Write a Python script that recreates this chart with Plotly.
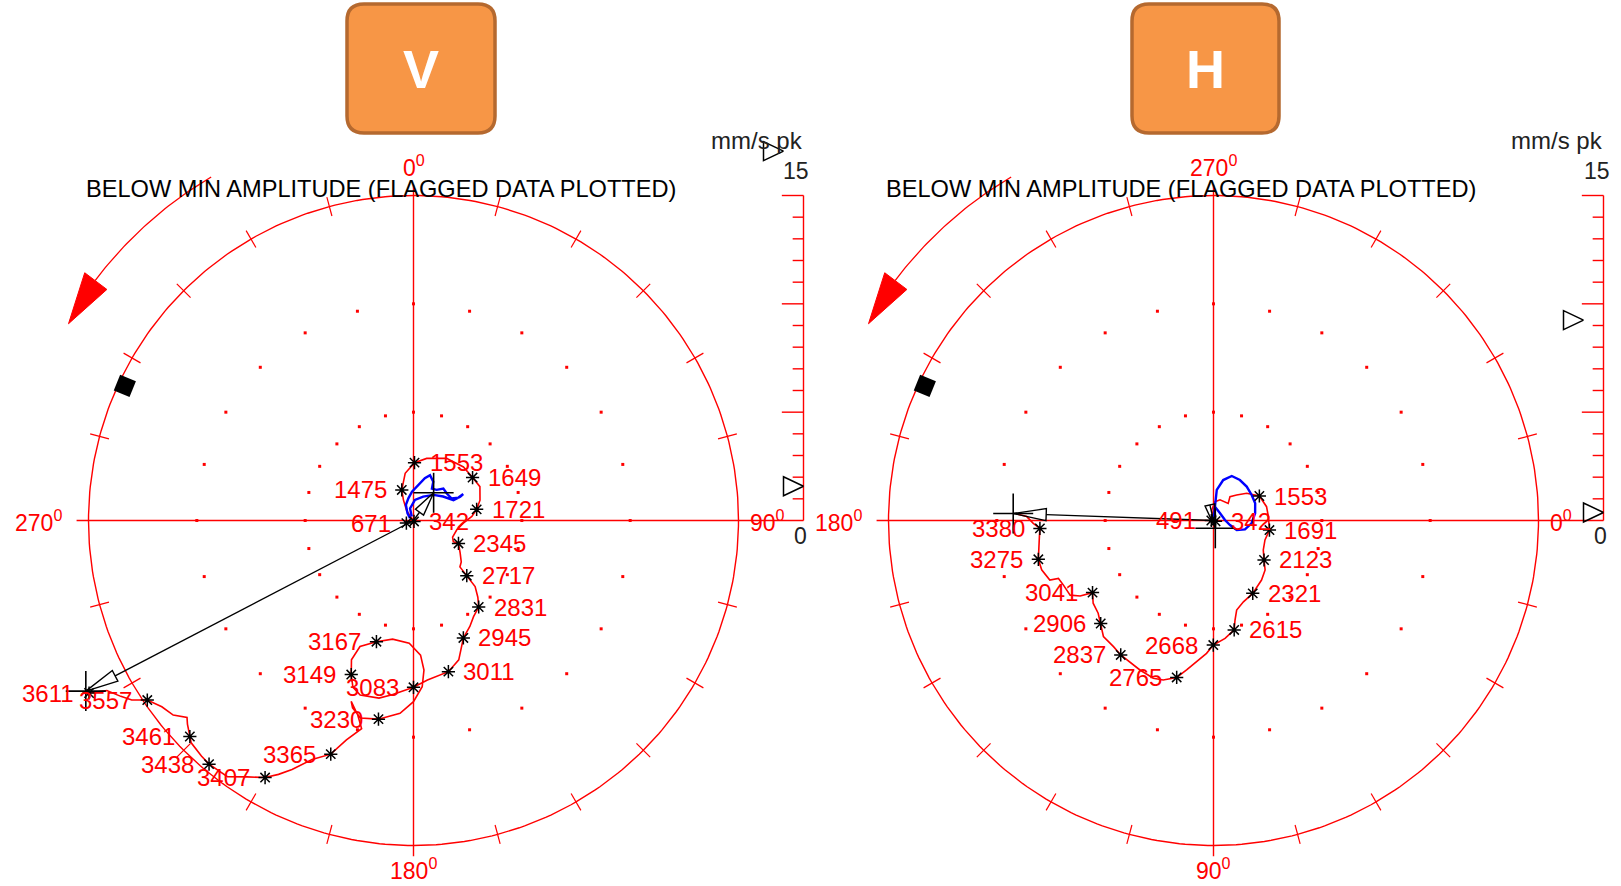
import numpy as np
import plotly.graph_objects as go

# ---------------------------------------------------------------
# Run-up polar plots (1X vector, mm/s pk) for the V and H probes
# ---------------------------------------------------------------

# ---- V probe : red 1X trace (amplitude mm/s pk, phase deg) ----
v_path_amp = [0.0,
              0.13, 0.58, 1.06, 1.51, 2.21,
              2.67, 2.93, 3.25, 3.38, 3.37,
              3.44, 3.21, 2.96, 2.70, 2.30,
              2.04, 1.96, 2.08, 2.33, 2.63,
              2.92, 3.03, 3.54, 4.17, 4.62,
              5.00, 5.23, 5.54, 5.89, 6.35,
              6.76, 7.16, 7.39, 7.70, 8.10,
              8.35, 8.42, 8.18, 7.67, 7.04,
              6.32, 5.85, 5.56, 5.67, 6.22,
              6.92, 7.68, 8.36, 8.92, 9.31,
              9.44, 9.10, 8.83, 9.34, 9.90,
              10.59, 11.44, 11.98, 12.79, 13.27,
              13.70, 14.11, 14.61, 14.68, 14.63,
              14.51, 14.35, 14.04, 13.85, 14.27,
              14.45, 14.82, 15.42, 15.76, 16.18, 16.96]
v_path_phase = [0,
                321, 326, 334, 339, 350,
                1, 12, 28, 43, 54,
                63, 73, 80, 86, 93,
                102.5, 113, 118, 117, 125,
                131, 135, 136, 137, 140,
                143, 148, 152, 157, 160,
                162, 167, 175, 180, 187,
                191, 197, 200, 202, 204,
                203, 197, 190, 182, 177,
                176, 177, 180, 184, 190,
                195, 198, 199, 196, 194,
                197, 199.5, 203, 206, 208,
                210, 213, 216, 220, 222,
                225, 226, 228, 229, 231,
                233.5, 236, 237.5, 239, 241, 242]

# ---- V probe : blue reference trace ----
v_blue_amp = [0.19, 0.43, 0.80, 1.05, 1.33, 1.65, 2.02, 2.23, 2.01, 1.70, 1.77, 2.02,
              1.98, 2.03, 2.33, 2.60, 2.42, 2.07, 1.76, 1.50, 1.19, 0.95, 0.58, 0.20]
v_blue_phase = [302, 320, 334, 347, 357, 8, 15, 20, 27, 30, 37, 43,
                51, 60, 63, 62, 63, 63, 51, 38, 22, 4, 344, 336]

# ---- V probe : labelled speeds (rpm) ----
v_speed = [342, 671, 1475, 1553, 1649, 1721, 2345, 2717, 2831, 2945, 3011,
           3083, 3149, 3167, 3230, 3365, 3407, 3438, 3461, 3557, 3611]
v_speed_amp = [0.05, 0.35, 1.51, 2.67, 3.37, 2.96, 2.33, 3.54, 5.00, 5.89, 7.16,
               7.70, 7.67, 5.85, 9.31, 11.44, 13.70, 14.68, 14.35, 14.82, 16.96]
v_speed_phase = [150, 250, 339, 1, 54, 80, 117, 136, 143, 157, 167,
                 180, 202, 197, 190, 199.5, 210, 220, 226, 236, 242]
v_label_side = ["R", "L", "L", "R", "R", "R", "R", "R", "R", "R", "R",
                "L", "L", "L", "L", "L", "L", "L", "L", "L", "L"]

# ---- V probe : cursors (main arrow, secondary) ----
v_cursor_amp = [17.05, 1.58]
v_cursor_phase = [242.5, 36]

# ---- H probe : red 1X trace ----
h_path_amp = [0.0, 0.49, 0.87, 1.00, 1.04,
              1.34, 1.59, 1.98, 2.40, 2.53,
              2.54, 2.62, 2.54, 2.67, 2.96,
              3.30, 3.53, 3.82, 4.00, 4.27,
              4.70, 5.14, 5.47, 5.75, 6.14,
              6.57, 7.01, 7.44, 7.72, 7.79,
              7.69, 7.54, 7.43, 7.38, 7.05,
              6.83, 6.74, 6.50, 7.07, 7.46,
              7.54, 7.64, 8.04, 8.25, 8.28,
              8.13, 8.07, 8.02, 8.32, 8.62,
              9.08]
h_path_phase = [0, 260.5, 274.6, 287.5, 310.7,
                304.6, 312.2, 320.7, 331.9, 345.4,
                355.9, 9.7, 20.7, 30.6, 38.0,
                43.8, 51.1, 61.7, 69.8, 75.5,
                77.8, 79.3, 84.4, 90.1, 93.0,
                96.8, 100.2, 103.2, 107.5, 110.9,
                116.2, 124.6, 128.4, 133.5, 137.6,
                141.2, 145.5, 149.2, 150.5, 152.5,
                156.7, 159.5, 160.0, 164.0, 167.5,
                171.4, 174.7, 177.4, 179.1, 181.2,
                181.9]

# ---- H probe : blue reference trace ----
h_blue_amp = [0.02, 0.79, 1.42, 1.92, 2.22, 2.23, 2.19, 2.12, 2.08,
              1.95, 1.76, 1.51, 1.16, 0.79, 0.53, 0.45, 0.64]
h_blue_phase = [270, 275.1, 276.1, 283.5, 292.3, 303.1, 314.4, 326.2, 337.6,
                350.2, 4.2, 15.8, 22.4, 15.4, 357.8, 312.3, 276.2]

# ---- H probe : labelled speeds (rpm) ----
h_speed = [342, 491, 1553, 1691, 2123, 2321, 2615, 2668, 2765, 2837, 2906, 3041, 3275, 3380]
h_speed_amp = [0.10, 0.10, 2.40, 2.62, 2.96, 3.82, 5.14, 5.75, 7.44, 7.54, 7.05, 6.50, 8.28, 8.02]
h_speed_phase = [20, 180, 331.9, 9.7, 38.0, 61.7, 79.3, 90.1, 103.2, 124.6, 137.6, 149.2, 167.5, 177.4]
h_label_side = ["R", "L", "R", "R", "R", "R", "R", "L", "L", "L", "L", "L", "L", "L"]

# ---- H probe : cursors ----
h_cursor_amp = [9.25, 0.37]
h_cursor_phase = [182, 77]

FULL_SCALE = 15          # mm/s pk
SCALE_TICKS = list(range(1, 16))
TITLE = "BELOW MIN AMPLITUDE (FLAGGED DATA PLOTTED)"
UNITS = "mm/s pk"

# ---------------------------------------------------------------
# page geometry
# ---------------------------------------------------------------
W, H = 1621, 886
SPLIT = 810
R_PX = 325.0
K = R_PX / FULL_SCALE          # pixels per mm/s
CY = 520.5
BAR = 18.0                     # x position of the amplitude scale bar (mm/s units)

RED = "#FF0000"
BLUE = "#0000FF"
BLACK = "#000000"
FONT = "Arial, Liberation Sans, sans-serif"

fig = go.Figure()


def to_xy(amp, phase, zero):
    """Phase increases clockwise; `zero` is the screen angle (deg, ccw from +x) of 0 deg."""
    a = np.radians(zero - np.asarray(phase, float))
    r = np.asarray(amp, float)
    return r * np.cos(a), r * np.sin(a)


def scr(r, ang):
    t = np.radians(ang)
    return r * np.cos(t), r * np.sin(t)


def line(xs, ys, xa, ya, color, width, **kw):
    fig.add_trace(go.Scatter(x=xs, y=ys, mode="lines", xaxis=xa, yaxis=ya,
                             line=dict(color=color, width=width), hoverinfo="skip",
                             showlegend=False, cliponaxis=False, **kw))


def head(xt, yt, xf, yf, length_px, half_px):
    dx, dy = xt - xf, yt - yf
    L = np.hypot(dx, dy)
    ux, uy = dx / L, dy / L
    bx, by = xt - ux * length_px / K, yt - uy * length_px / K
    nx, ny = -uy * half_px / K, ux * half_px / K
    return [xt, bx + nx, bx - nx, xt], [yt, by + ny, by - ny, yt], bx, by


def panel(xa, ya, zero, cx_px, path, blue, speeds, cursors, box_text, box_px):

    def note(u, v, text, xanchor, size, color, yanchor="middle"):
        # annotation placed at (u, v) mm/s in this panel, via paper coordinates
        fig.add_annotation(x=(cx_px + u * K) / W, y=1 - (CY - v * K) / H,
                           xref="paper", yref="paper", text=text, showarrow=False,
                           xanchor=xanchor, yanchor=yanchor,
                           font=dict(family=FONT, size=size, color=color))

    # outer circle
    t = np.linspace(0, 360, 361)
    cxs, cys = scr(FULL_SCALE, t)
    line(cxs, cys, xa, ya, RED, 1.4)

    # radial ticks on the outer circle every 15 deg
    tx, ty = [], []
    for a in range(0, 360, 15):
        if a % 90 == 0:
            continue
        x0, y0 = scr(FULL_SCALE - 0.45, a)
        x1, y1 = scr(FULL_SCALE + 0.45, a)
        tx += [x0, x1, None]
        ty += [y0, y1, None]
    line(tx, ty, xa, ya, RED, 1.2)

    # dotted grid rings at 5 and 10 mm/s
    dx_, dy_ = [], []
    for rr in (5, 10):
        for a in range(0, 360, 15):
            x, y = scr(rr, a)
            dx_.append(x)
            dy_.append(y)
    fig.add_trace(go.Scatter(x=dx_, y=dy_, mode="markers", xaxis=xa, yaxis=ya,
                             marker=dict(symbol="square", size=3, color=RED, line=dict(width=0)),
                             hoverinfo="skip", showlegend=False))

    # cross-hair axes
    line([-15.55, BAR], [0, 0], xa, ya, RED, 1.4)
    line([0, 0], [15.5, -15.5], xa, ya, RED, 1.4)

    # amplitude scale bar
    sx, sy = [BAR, BAR, None], [0, FULL_SCALE, None]
    for v in SCALE_TICKS:
        ln = 1.0 if v % 5 == 0 else 0.5
        sx += [BAR - ln, BAR, None]
        sy += [v, v, None]
    line(sx, sy, xa, ya, RED, 1.4)

    # direction of rotation arrow
    arc_t = np.linspace(120.5, 143, 40)
    ax_, ay_ = scr(18.4, arc_t)
    line(ax_, ay_, xa, ya, RED, 1.3)
    b1 = scr(17.72, 143)
    b2 = scr(19.0, 143)
    tip = scr(18.33, 150.3)
    fig.add_trace(go.Scatter(x=[b1[0], b2[0], tip[0], b1[0]], y=[b1[1], b2[1], tip[1], b1[1]],
                             mode="lines", fill="toself", fillcolor=RED, xaxis=xa, yaxis=ya,
                             line=dict(color=RED, width=1), hoverinfo="skip", showlegend=False,
                             cliponaxis=False))

    # transducer location marker
    qx, qy = scr(14.7, 155)
    fig.add_trace(go.Scatter(x=[qx], y=[qy], mode="markers", xaxis=xa, yaxis=ya,
                             marker=dict(symbol="square", size=17, color=BLACK, angle=22,
                                         line=dict(width=0)),
                             hoverinfo="skip", showlegend=False))

    # 1X traces
    px_, py_ = to_xy(path[0], path[1], zero)
    line(px_, py_, xa, ya, RED, 1.6)
    bx_, by_ = to_xy(blue[0], blue[1], zero)
    line(bx_, by_, xa, ya, BLUE, 2.4)

    # cursors: arrows from the origin plus cross-hairs
    cx_, cy_ = to_xy(cursors[0], cursors[1], zero)
    for i in range(2):
        hl = 33 if i == 0 else 24
        hx, hy, bbx, bby = head(cx_[i], cy_[i], 0.0, 0.0, hl, 6 if i == 0 else 5)
        line([0, bbx], [0, bby], xa, ya, BLACK, 1.4)
        line(hx, hy, xa, ya, BLACK, 1.4)
        arm = 20 / K
        line([cx_[i] - arm, cx_[i] + arm, None, cx_[i], cx_[i]],
             [cy_[i], cy_[i], None, cy_[i] - arm, cy_[i] + arm], xa, ya, BLACK, 1.6)

    # speed markers and labels
    spd, samp, sph, side = speeds
    sxs, sys_ = to_xy(samp, sph, zero)
    fig.add_trace(go.Scatter(x=sxs, y=sys_, mode="markers", xaxis=xa, yaxis=ya,
                             marker=dict(symbol="asterisk-open", size=11, color=BLACK,
                                         line=dict(color=BLACK, width=1.5)),
                             hoverinfo="skip", showlegend=False, cliponaxis=False))
    for s, x, y, sd in zip(spd, sxs, sys_, side):
        if sd == "R":
            note(x + 13 / K, y, str(s), "left", 24, RED)
        else:
            note(x - 13 / K, y, str(s), "right", 24, RED)

    # cursor amplitude indicators on the scale bar
    offs = [20 / K, 0.0]
    for i in range(2):
        xt = BAR - offs[i]
        val = cursors[0][i]
        line([xt, xt - 20 / K, xt - 20 / K, xt],
             [val, val + 9.5 / K, val - 9.5 / K, val], xa, ya, BLACK, 1.5)

    # phase labels around the circle
    deg = lambda v: f"{v}<sup>0</sup>"
    ph = lambda a: int(round((zero - a) % 360))
    note(0, 354.5 / K, deg(ph(90)), "center", 23, RED)
    note(0, -348.5 / K, deg(ph(270)), "center", 23, RED)
    note(334 / K, 0, deg(ph(0)), "left", 23, RED)
    note(-350 / K, 0, deg(ph(180)), "right", 23, RED)

    # heading and scale captions
    note(-33 / K, (CY - 189) / K, TITLE, "center", 23.6, BLACK)
    note(BAR + 1 / K, (CY - 141) / K, UNITS, "right", 24, "#222222")
    note(BAR + 8 / K, (CY - 171) / K, str(FULL_SCALE), "right", 23, "#222222")
    note(BAR - 3 / K, (CY - 536) / K, "0", "center", 23, "#222222")

    # orange probe tag
    x0, y0, x1, y1 = box_px
    r = 17

    def p(x, y):
        return f"{x / W:.5f},{1 - y / H:.5f}"

    path_str = ("M " + p(x0 + r, y0) + " L " + p(x1 - r, y0) + " Q " + p(x1, y0) + " " + p(x1, y0 + r) +
                " L " + p(x1, y1 - r) + " Q " + p(x1, y1) + " " + p(x1 - r, y1) +
                " L " + p(x0 + r, y1) + " Q " + p(x0, y1) + " " + p(x0, y1 - r) +
                " L " + p(x0, y0 + r) + " Q " + p(x0, y0) + " " + p(x0 + r, y0) + " Z")
    fig.add_shape(type="path", path=path_str, xref="paper", yref="paper",
                  fillcolor="#F79646", line=dict(color="#B5692F", width=3.5))
    fig.add_annotation(x=(x0 + x1) / 2 / W, y=1 - (y0 + y1) / 2 / H, xref="paper", yref="paper",
                       text=f"<b>{box_text}</b>", showarrow=False, xanchor="center",
                       yanchor="middle", font=dict(family=FONT, size=54, color="white"))


panel("x", "y", 90, 413.5,
      (v_path_amp, v_path_phase), (v_blue_amp, v_blue_phase),
      (v_speed, v_speed_amp, v_speed_phase, v_label_side),
      (v_cursor_amp, v_cursor_phase), "V", (347, 4, 495, 133))
panel("x2", "y2", 0, 1213.5,
      (h_path_amp, h_path_phase), (h_blue_amp, h_blue_phase),
      (h_speed, h_speed_amp, h_speed_phase, h_label_side),
      (h_cursor_amp, h_cursor_phase), "H", (1132, 4, 1279, 133))

yr_ = [-(H - CY) / K, CY / K]
fig.update_layout(
    width=W, height=H, margin=dict(l=0, r=0, t=0, b=0),
    paper_bgcolor="white", plot_bgcolor="white", showlegend=False,
    font=dict(family=FONT),
    xaxis=dict(domain=[0, SPLIT / W], range=[-413.5 / K, (SPLIT - 413.5) / K], visible=False),
    yaxis=dict(domain=[0, 1], range=yr_, visible=False),
    xaxis2=dict(domain=[SPLIT / W, 1], range=[(SPLIT - 1213.5) / K, (W - 1213.5) / K],
                visible=False, anchor="y2"),
    yaxis2=dict(domain=[0, 1], range=yr_, visible=False, anchor="x2"),
)

fig.write_html("out.html")
